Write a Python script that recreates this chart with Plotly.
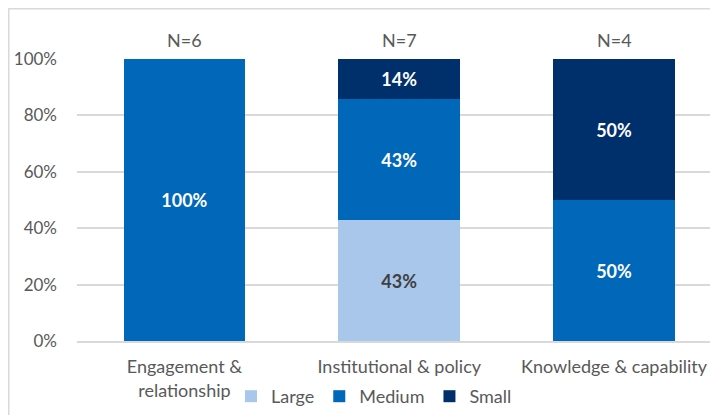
import plotly.graph_objects as go

categories = ["Engagement &<br>relationship", "Institutional & policy", "Knowledge & capability"]
n_labels = ["N=6", "N=7", "N=4"]
large = [None, 0.4286, None]
medium = [1.0, 0.4286, 0.5]
small = [None, 0.1429, 0.5]
y_ticks = [0, 0.2, 0.4, 0.6, 0.8, 1.0]
y_ticktext = ["0%", "20%", "40%", "60%", "80%", "100%"]

FONT = "Lato, 'Open Sans', sans-serif"
OFF = 8  # default page body margin
W, H = 718 - OFF, 415 - OFF
ML, MR, MT = 77 - OFF, 0, 59 - OFF
MB = H - (341 - OFF)
pw, ph = W - ML - MR, H - MT - MB

x_idx = list(range(len(categories)))

fig = go.Figure()
series = [
    ("Large", large, "#A9C7EB", "#404040"),
    ("Medium", medium, "#0167B9", "#FFFFFF"),
    ("Small", small, "#00306B", "#FFFFFF"),
]
for name, vals, col, tcol in series:
    fig.add_trace(go.Bar(
        name=name, x=x_idx, y=vals, marker=dict(color=col, line=dict(width=0)),
        width=0.567, texttemplate="%{y:.0%}", textposition="inside",
        insidetextanchor="middle", textangle=0,
        textfont=dict(family=FONT, size=18, color=tcol, weight="bold"),
        hoverinfo="skip",
    ))

for i, lab in enumerate(n_labels):
    fig.add_annotation(x=i, y=1.0, xref="x", yref="y", yshift=19, text=lab,
                       showarrow=False, font=dict(family=FONT, size=18, color="#595959"))

# chart-area border (light grey frame)
fig.add_shape(type="rect", xref="paper", yref="paper",
              x0=(0.75 - ML) / pw, x1=1.2, y0=-0.5, y1=(MT + ph - 0.75) / ph,
              line=dict(color="#D9D9D9", width=1.5), fillcolor="rgba(0,0,0,0)", layer="below")

fig.update_layout(
    width=W, height=H, barmode="stack",
    margin=dict(l=ML, r=MR, t=MT, b=MB, pad=0),
    paper_bgcolor="white", plot_bgcolor="white",
    font=dict(family=FONT, size=18, color="#595959"),
    showlegend=True,
    legend=dict(orientation="h", x=(231 - OFF - ML) / pw, xanchor="left",
                y=-(397 - 341) / ph, yanchor="middle",
                font=dict(family=FONT, size=18, color="#595959"), traceorder="normal",
                itemwidth=30, bgcolor="rgba(0,0,0,0)"),
    xaxis=dict(range=[-0.5, 2.5 - 3.5 / 215], tickvals=x_idx, ticktext=categories,
               showgrid=False, zeroline=False, showline=True, linecolor="#D9D9D9", linewidth=1.5,
               ticks="", ticklabelstandoff=9,
               tickfont=dict(family=FONT, size=18, color="#595959"), fixedrange=True),
    yaxis=dict(range=[0, 1.0], tickvals=y_ticks, ticktext=y_ticktext,
               showgrid=True, gridcolor="#D9D9D9", gridwidth=1.5, zeroline=False, showline=False,
               ticks="", ticklabelstandoff=19,
               tickfont=dict(family=FONT, size=17, color="#595959"), fixedrange=True),
)
fig.write_html("out.html")
